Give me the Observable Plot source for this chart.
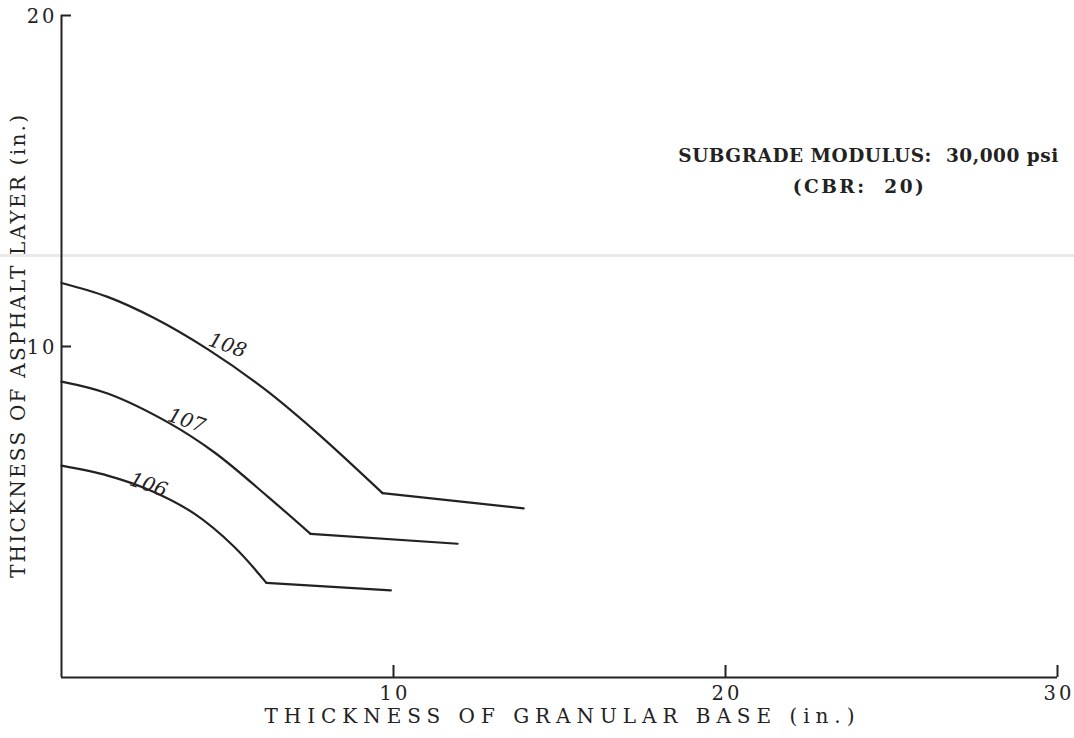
<!DOCTYPE html>
<html>
<head>
<meta charset="utf-8">
<script src="https://cdn.jsdelivr.net/npm/d3@7"></script>
<script src="https://cdn.jsdelivr.net/npm/@observablehq/plot@0.6"></script>
<style>
  html, body { margin: 0; padding: 0; background: #fff; }
  #wrap { position: relative; width: 1074px; height: 738px; }
  #streak { position: absolute; left: 0; top: 254px; width: 1074px; height: 3px; background: #e9e9e9; }
  #chart { position: absolute; left: 0; top: 0; }
</style>
</head>
<body>
<div id="wrap">
  <div id="streak"></div>
  <div id="chart"></div>
</div>
<script>
// Design curves: thickness of asphalt layer vs thickness of granular base,
// one curve per number of load repetitions.
const curveNames = ["106", "107", "108"];

// curved portion of each curve, ending at the break point
const base106 = [0, 1.39, 2.68, 4.0, 5.2, 6.17];
const asphalt106 = [6.40, 6.10, 5.65, 4.95, 3.95, 2.86];
const base107 = [0, 1.39, 3.22, 4.62, 6.23, 7.50];
const asphalt107 = [8.94, 8.58, 7.70, 6.79, 5.45, 4.34];
const base108 = [0, 1.39, 2.79, 4.40, 6.11, 7.62, 9.67];
const asphalt108 = [11.92, 11.50, 10.86, 9.92, 8.72, 7.46, 5.57];

// end of the straight tail after the break point (106, 107, 108)
const tailBase = [9.92, 11.93, 13.92];
const tailAsphalt = [2.63, 4.04, 5.11];

// curve label anchors (106, 107, 108)
const labelBase = [2.62, 3.77, 5.0];
const labelAsphalt = [5.82, 7.76, 10.03];

const xTicks = [10, 20, 30];
const yTicks = [10, 20];

const xTitle = "THICKNESS OF GRANULAR BASE (in.)";
const yTitle = "THICKNESS OF ASPHALT LAYER (in.)";
const noteLine1 = "SUBGRADE MODULUS:  30,000 psi";
const noteLine2 = "(CBR:  20)";

const curveBase = [base106, base107, base108];
const curveAsphalt = [asphalt106, asphalt107, asphalt108];

// rows for the line mark: each curve split into its smooth part and its tail
const rows = [];
curveNames.forEach((name, k) => {
  const xs = curveBase[k], ys = curveAsphalt[k];
  xs.forEach((x, i) => rows.push({part: name + "-bend", x, y: ys[i]}));
  const last = xs.length - 1;
  rows.push({part: name + "-tail", x: xs[last], y: ys[last]});
  rows.push({part: name + "-tail", x: tailBase[k], y: tailAsphalt[k]});
});
const labels = curveNames.map((name, k) => ({name, x: labelBase[k], y: labelAsphalt[k]}));

const ink = "#222";
const serif = "DejaVu Serif, Liberation Serif, serif";

const chart = Plot.plot({
  width: 1074,
  height: 738,
  marginLeft: 61,
  marginRight: 17,
  marginTop: 15,
  marginBottom: 61,
  x: {domain: [0, 30], axis: null},
  y: {domain: [0, 20], axis: null},
  style: {fontFamily: serif, color: ink, background: "transparent"},
  marks: [
    // axis lines
    Plot.ruleX([0], {stroke: ink, strokeWidth: 2}),
    Plot.ruleY([0], {stroke: ink, strokeWidth: 2}),
    // inward tick marks
    Plot.ruleX(xTicks, {x: d => d, y1: 0, y2: 0, insetBottom: 12, stroke: ink, strokeWidth: 2}),
    Plot.ruleY(yTicks, {y: d => d, x1: 0, x2: 0, insetRight: -10, stroke: ink, strokeWidth: 2}),
    // tick labels
    Plot.text(xTicks, {x: d => d, y: 0, dy: 16, dx: 1.5, text: d => String(d), fontSize: 19.5, fill: ink}),
    Plot.text(yTicks, {x: 0, y: d => d, dx: -4, dy: 1, text: d => String(d), textAnchor: "end", fontSize: 19.5, fill: ink}),
    // curves
    Plot.line(rows, {x: "x", y: "y", z: "part", curve: "catmull-rom", stroke: ink, strokeWidth: 2.2}),
    // curve labels
    Plot.text(labels, {x: "x", y: "y", text: "name", rotate: 19, fontSize: 20, fontStyle: "italic", fill: ink}),
    // axis titles
    Plot.text([xTitle], {frameAnchor: "bottom", dy: 45, fontSize: 20, fill: ink}),
    Plot.text([yTitle], {frameAnchor: "left", textAnchor: "middle", dx: -43, rotate: -90, fontSize: 20, fill: ink}),
    // subgrade note
    Plot.text([noteLine1], {x: 24.3, y: 15.74, fontSize: 18.5, fontWeight: "bold", fill: ink}),
    Plot.text([noteLine2], {x: 24.0, y: 14.83, fontSize: 18.5, fontWeight: "bold", fill: ink})
  ]
});

// spread the typewriter-style texts to their set widths
const widths = new Map([[xTitle, 590], [yTitle, 463], [noteLine1, 380], [noteLine2, 131]]);
d3.select(chart).selectAll("text").each(function () {
  const t = this.textContent;
  if (widths.has(t)) {
    d3.select(this).attr("textLength", widths.get(t)).attr("lengthAdjust", "spacing");
  } else if (/^\d0$/.test(t)) {
    d3.select(this).attr("letter-spacing", "3px");
  }
});

document.getElementById("chart").appendChild(chart);
</script>
</body>
</html>
